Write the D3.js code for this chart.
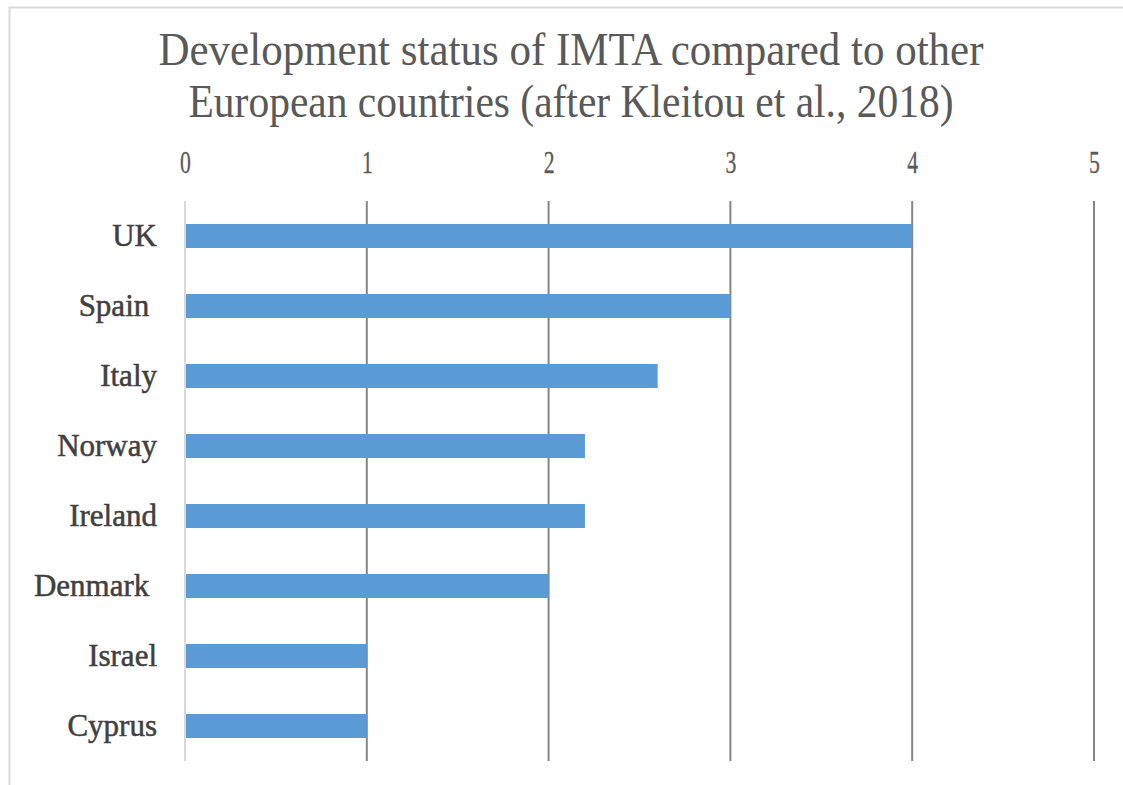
<!DOCTYPE html>
<html><head><meta charset="utf-8">
<script src="https://cdn.jsdelivr.net/npm/d3@7"></script>
<style>
html,body{margin:0;padding:0;background:#fff;}
svg{display:block;}
</style></head>
<body>
<script>
const categories = ["UK","Spain ","Italy","Norway","Ireland","Denmark ","Israel","Cyprus"];
const values = [4, 3, 2.6, 2.2, 2.2, 2, 1, 1];
const tickValues = [0,1,2,3,4,5];
const titleLines = ["Development status of IMTA compared to other","European countries (after Kleitou et al., 2018)"];

const W = 1123, H = 785;
const svg = d3.select("body").append("svg").attr("width", W).attr("height", H);

svg.append("rect").attr("x", 9.5).attr("y", 7.5).attr("width", W + 20).attr("height", H + 20)
  .attr("fill", "#fff").attr("stroke", "#d9d9d9").attr("stroke-width", 2);

const x = d3.scaleLinear().domain([0, 5]).range([185, 1094]);
const y = d3.scaleBand().domain(categories).range([201, 761]).paddingInner(0.657).paddingOuter(0.3285);

// title
const titleW = [825, 765];
svg.selectAll("text.title").data(titleLines).join("text")
  .attr("class","title")
  .attr("x", 571).attr("y", (d,i) => 65 + i*52)
  .attr("text-anchor","middle")
  .attr("font-family","Liberation Serif, serif")
  .attr("font-size", 46)
  .attr("fill","#595959")
  .attr("textLength", (d,i) => titleW[i])
  .attr("lengthAdjust","spacingAndGlyphs")
  .text(d => d);

// gridlines
svg.append("g").selectAll("line").data(tickValues).join("line")
  .attr("x1", d => x(d)).attr("x2", d => x(d))
  .attr("y1", 201).attr("y2", 761)
  .attr("stroke", d => d === 0 ? "#d9d9d9" : "#868686")
  .attr("stroke-width", 2);

// top axis labels
const ax = d3.axisTop(x).tickValues(tickValues).tickSize(0).tickPadding(0).tickFormat(d3.format("d"));
const gAx = svg.append("g").attr("transform","translate(0,173)").call(ax);
gAx.select(".domain").remove();
gAx.selectAll("text").attr("font-family","Liberation Serif, serif").attr("font-size",31)
  .attr("fill","#595959").attr("stroke","#595959").attr("stroke-width",0.3)
  .attr("dy",0).attr("y",0).attr("transform","scale(0.7,1)");

// bars
svg.append("g").selectAll("rect").data(values).join("rect")
  .attr("x", x(0)+1)
  .attr("y", (d,i) => y(categories[i]))
  .attr("width", d => x(d) - x(0) - 1)
  .attr("height", y.bandwidth())
  .attr("fill", "#5b9bd5");

// category labels
const ay = d3.axisLeft(y).tickSize(0).tickPadding(28);
const gAy = svg.append("g").attr("transform", `translate(${x(0)},0)`).call(ay);
gAy.select(".domain").remove();
gAy.selectAll("text").attr("font-family","Liberation Serif, serif").attr("font-size",31)
  .attr("fill","#404040").attr("stroke","#404040").attr("stroke-width",0.5)
  .style("white-space","pre").attr("dy","0.32em");
</script>
</body></html>
